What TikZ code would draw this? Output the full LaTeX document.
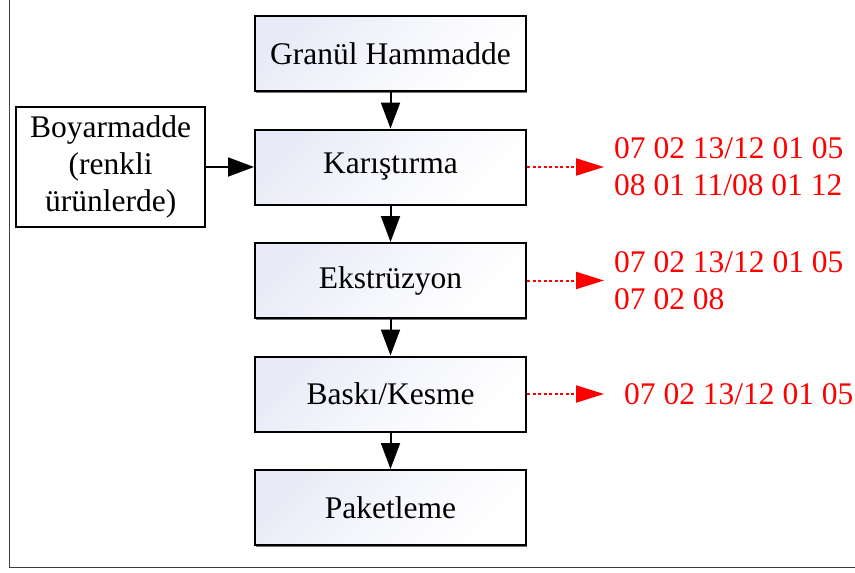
\documentclass[tikz,border=0pt]{standalone}
\usepackage{fontspec}
\setmainfont{Liberation Serif}
\usetikzlibrary{arrows.meta,positioning,shadows}

\definecolor{boxtint}{RGB}{232,235,247}
\definecolor{codered}{RGB}{255,0,0}

\begin{document}
\begin{tikzpicture}[
    x=1pt, y=1pt,
    font=\fontsize{31.5}{37}\selectfont,
    node distance=36.5pt and 48pt,
    % node styles
    stepbox/.style  = {draw, line width=2pt, top color=boxtint, bottom color=white,
                       middle color=white!60!boxtint,
                       shading angle=45, minimum width=271pt, minimum height=75pt,
                       align=center, inner sep=2pt,
                       drop shadow={shadow xshift=1pt, shadow yshift=-1.5pt,
                                    fill=black!55, opacity=1}},
    inputbox/.style = {draw, line width=1.6pt, fill=white, minimum width=189pt,
                       minimum height=120pt, align=center, inner sep=2pt},
    codes/.style    = {text=codered, align=left, inner sep=0pt},
    % edges
    flow/.style     = {-{Triangle[length=26pt, width=19pt]}, line width=2pt},
    waste/.style    = {-{Triangle[length=28pt, width=17pt]}, line width=2pt,
                       codered, dash pattern=on 3pt off 2.5pt},
    frame/.style    = {line width=1.4pt, black!75}
  ]

\useasboundingbox (0,0) rectangle (855,-573);
\draw[frame] (9.5,0) |- (855,-567.5);

% main process chain
\node[stepbox] (granul) at (390.5,-53.5) {Granül Hammadde};
\node[stepbox, below=of granul] (karis) {Karıştırma};
\node[stepbox, below=of karis]  (ekstr) {Ekstrüzyon};
\node[stepbox, below=of ekstr]  (baski) {Baskı/Kesme};
\node[stepbox, below=of baski]  (paket) {Paketleme};

% dye input
\node[inputbox, left=of karis] (boya) {Boyarmadde\\(renkli\\ürünlerde)};

% waste codes
\node[codes, right=87pt of karis] (codeA) {07 02 13/12 01 05\\08 01 11/08 01 12};
\node[codes, right=87pt of ekstr] (codeB) {07 02 13/12 01 05\\07 02 08};
\node[codes, right=97pt of baski] (codeC) {07 02 13/12 01 05};

% arrows
\draw[flow] (granul) -- (karis);
\draw[flow] (karis) -- (ekstr);
\draw[flow] (ekstr) -- (baski);
\draw[flow] (baski) -- (paket);
\draw[flow] (boya) -- (karis);

\draw[waste] (karis.east) -- ([xshift=-10pt]codeA.west);
\draw[waste] (ekstr.east) -- ([xshift=-10pt]codeB.west);
\draw[waste] (baski.east) -- ([xshift=-20pt]codeC.west);

\end{tikzpicture}
\end{document}
